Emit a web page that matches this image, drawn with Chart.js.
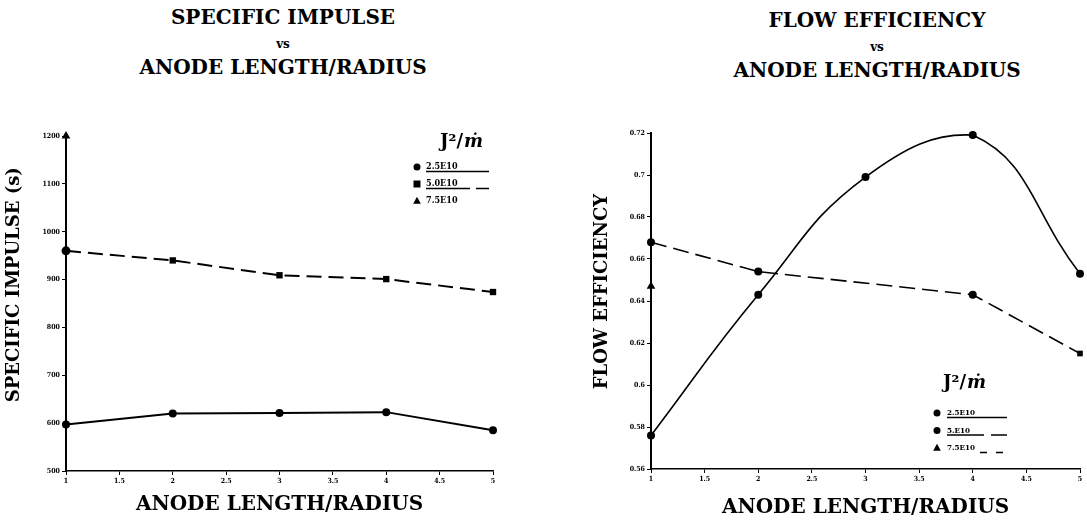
<!DOCTYPE html>
<html>
<head>
<meta charset="utf-8">
<script src="https://cdn.jsdelivr.net/npm/chart.js@4"></script>
<style>
  body { margin: 0; background: #fff; width: 1087px; height: 521px; position: relative; overflow: hidden; }
  canvas { position: absolute; top: 0; }
  .t { position: absolute; text-align: center; font-family: 'DejaVu Serif'; font-weight: bold; color: #000; line-height: 24px; white-space: nowrap; }
</style>
</head>
<body>
<div class="t" style="left:0;width:566px;top:5px;font-size:20px">SPECIFIC IMPULSE</div>
<div class="t" style="left:0;width:566px;top:32px;font-size:12px">vs</div>
<div class="t" style="left:0;width:566px;top:55px;font-size:20px">ANODE LENGTH/RADIUS</div>
<div class="t" style="left:667px;width:420px;top:8px;font-size:20px">FLOW EFFICIENCY</div>
<div class="t" style="left:667px;width:420px;top:35px;font-size:12px">vs</div>
<div class="t" style="left:667px;width:420px;top:58px;font-size:20px">ANODE LENGTH/RADIUS</div>

<canvas id="impulseChart" width="560" height="521" style="left:0"></canvas>
<canvas id="flowChart" width="499" height="521" style="left:588px"></canvas>

<script>
// tick values
var xTicks = [1, 1.5, 2, 2.5, 3, 3.5, 4, 4.5, 5];
var impulseTicks = [500, 600, 700, 800, 900, 1000, 1100, 1200];
var flowTicks = [0.56, 0.58, 0.6, 0.62, 0.64, 0.66, 0.68, 0.7, 0.72];

// anode length / radius
var ratio = [1, 2, 3, 4, 5];
var ratioSparse = [1, 2, 4, 5];
var ratioFirst = [1];

// specific impulse (s)
var impulse25 = [597, 620, 621, 623, 585];
var impulse50 = [960, 940, 909, 901, 874];
var impulse75 = [1200];

// flow efficiency
var flow25 = [0.576, 0.643, 0.699, 0.719, 0.653];
var flow50 = [0.668, 0.654, 0.643, 0.615];
var flow75 = [0.647];

var impulseLabels = ['2.5E10', '5.0E10', '7.5E10'];
var flowLabels = ['2.5E10', '5.E10', '7.5E10'];

function pts(xs, ys) {
  return xs.map(function (x, i) { return { x: x, y: ys[i] }; });
}

var tickFont = { family: 'DejaVu Serif Condensed', weight: 'bold', size: 7 };
var serifBold = function (size) { return { family: 'DejaVu Serif', weight: 'bold', size: size }; };

function drawMarker(ctx, style, x, y, r) {
  ctx.beginPath();
  if (style === 'rect') {
    ctx.rect(x - r, y - r, 2 * r, 2 * r);
  } else if (style === 'triangle') {
    ctx.moveTo(x, y - r * 1.2);
    ctx.lineTo(x + r * 1.1, y + r * 0.8);
    ctx.lineTo(x - r * 1.1, y + r * 0.8);
    ctx.closePath();
  } else {
    ctx.arc(x, y, r, 0, Math.PI * 2);
  }
  ctx.fill();
}

// J^2/m legend drawn inside the plot
var sideLegend = {
  id: 'sideLegend',
  afterDraw: function (chart, args, o) {
    var ctx = chart.ctx;
    ctx.save();
    ctx.fillStyle = '#000';
    ctx.strokeStyle = '#000';
    ctx.textBaseline = 'middle';
    ctx.textAlign = 'left';

    var a = 'J²/', b = 'ṁ';
    ctx.font = "bold 18px 'DejaVu Serif'";
    var wa = ctx.measureText(a).width;
    ctx.font = "bold italic 18px 'DejaVu Serif'";
    var wb = ctx.measureText(b).width;
    var hx = o.headerX - (wa + wb) / 2;
    ctx.font = "bold 18px 'DejaVu Serif'";
    ctx.fillText(a, hx, o.headerY);
    ctx.font = "bold italic 18px 'DejaVu Serif'";
    ctx.fillText(b, hx + wa + 1, o.headerY);

    chart.data.datasets.forEach(function (ds, i) {
      var y = o.y + i * o.gap;
      drawMarker(ctx, o.markers[i], o.x, y, 3.5);
      ctx.font = o.font;
      ctx.fillText(ds.label, o.textX, y);
      var dash = o.dashes[i];
      if (dash) {
        ctx.setLineDash(dash);
        ctx.lineWidth = 1.3;
        ctx.beginPath();
        ctx.moveTo(o.lineStart[i], y + 4.5);
        ctx.lineTo(o.lineEnd, y + 4.5);
        ctx.stroke();
      }
    });
    ctx.restore();
  }
};

// leading spaces lift the rotated y title a little, as in the scan
function lift(text, n) { return new Array(n + 1).join(' ') + text; }

function axes(yTicks, yTitle, yWidth, xHeight, xTitlePad) {
  return {
    x: {
      type: 'linear',
      min: xTicks[0],
      max: xTicks[xTicks.length - 1],
      afterBuildTicks: function (s) { s.ticks = xTicks.map(function (v) { return { value: v }; }); },
      afterFit: function (s) { s.height = xHeight; },
      border: { display: true, color: '#000', width: 1.5 },
      grid: { drawOnChartArea: false, drawTicks: true, tickLength: 4, color: '#000' },
      ticks: { color: '#000', font: tickFont, padding: 2, maxRotation: 0, autoSkip: false,
        callback: function (v) { return String(v); } },
      title: { display: true, text: 'ANODE LENGTH/RADIUS', color: '#000', font: serifBold(20),
        padding: { top: 4, bottom: xTitlePad } }
    },
    y: {
      min: yTicks[0],
      max: yTicks[yTicks.length - 1],
      afterBuildTicks: function (s) { s.ticks = yTicks.map(function (v) { return { value: v }; }); },
      afterFit: function (s) { s.width = yWidth; },
      border: { display: true, color: '#000', width: 2 },
      grid: { drawOnChartArea: false, drawTicks: true, tickLength: 4, color: '#000' },
      ticks: { color: '#000', font: tickFont, padding: 2, autoSkip: false,
        callback: function (v) { return String(v); } },
      title: { display: true, text: yTitle, color: '#000', font: serifBold(18), padding: { top: 4, bottom: 4 } }
    }
  };
}

var dot = { pointBackgroundColor: '#000', pointBorderWidth: 0, borderColor: '#000', clip: false };

new Chart(document.getElementById('impulseChart'), {
  type: 'line',
  data: {
    datasets: [
      Object.assign({ label: impulseLabels[0], data: pts(ratio, impulse25), borderWidth: 2,
        pointStyle: 'circle', pointRadius: 4, tension: 0 }, dot),
      Object.assign({ label: impulseLabels[1], data: pts(ratio, impulse50), borderWidth: 2, borderDash: [15, 7],
        pointStyle: ['circle', 'rect', 'rect', 'rect', 'rect'], pointRadius: 4.5, tension: 0 }, dot),
      Object.assign({ label: impulseLabels[2], data: pts(ratioFirst, impulse75), showLine: false,
        pointStyle: 'triangle', pointRadius: 5 }, dot)
    ]
  },
  options: {
    responsive: false,
    animation: false,
    layout: { padding: { top: 136, right: 67, bottom: 0, left: 0 } },
    scales: axes(impulseTicks, lift('SPECIFIC IMPULSE (s)', 6), 66, 50, 4),
    plugins: {
      legend: { display: false },
      tooltip: { enabled: false },
      sideLegend: {
        headerX: 461, headerY: 142,
        x: 417, textX: 426, y: 167, gap: 17, lineEnd: 489,
        font: "bold 9px 'DejaVu Serif Condensed'",
        markers: ['circle', 'rect', 'triangle'],
        dashes: [[], [44, 6], null],
        lineStart: [426, 426, 426]
      }
    }
  },
  plugins: [sideLegend]
});

new Chart(document.getElementById('flowChart'), {
  type: 'line',
  data: {
    datasets: [
      Object.assign({ label: flowLabels[0], data: pts(ratio, flow25), borderWidth: 1.6,
        pointStyle: 'circle', pointRadius: 4, tension: 0.45 }, dot),
      Object.assign({ label: flowLabels[1], data: pts(ratioSparse, flow50), borderWidth: 1.6, borderDash: [16, 7],
        pointStyle: ['circle', 'circle', 'circle', 'rect'], pointRadius: 4, tension: 0 }, dot),
      Object.assign({ label: flowLabels[2], data: pts(ratioFirst, flow75), showLine: false,
        pointStyle: 'triangle', pointRadius: 5 }, dot)
    ]
  },
  options: {
    responsive: false,
    animation: false,
    layout: { padding: { top: 133, right: 7, bottom: 0, left: 0 } },
    scales: axes(flowTicks, lift('FLOW EFFICIENCY', 3), 63, 52, 1),
    plugins: {
      legend: { display: false },
      tooltip: { enabled: false },
      sideLegend: {
        headerX: 376, headerY: 383,
        x: 349, textX: 359, y: 413, gap: 17.5, lineEnd: 419,
        font: "bold 8px 'DejaVu Serif Condensed'",
        markers: ['circle', 'circle', 'triangle'],
        dashes: [[], [37, 7], [7, 9]],
        lineStart: [359, 359, 392]
      }
    }
  },
  plugins: [sideLegend]
});
</script>
</body>
</html>
